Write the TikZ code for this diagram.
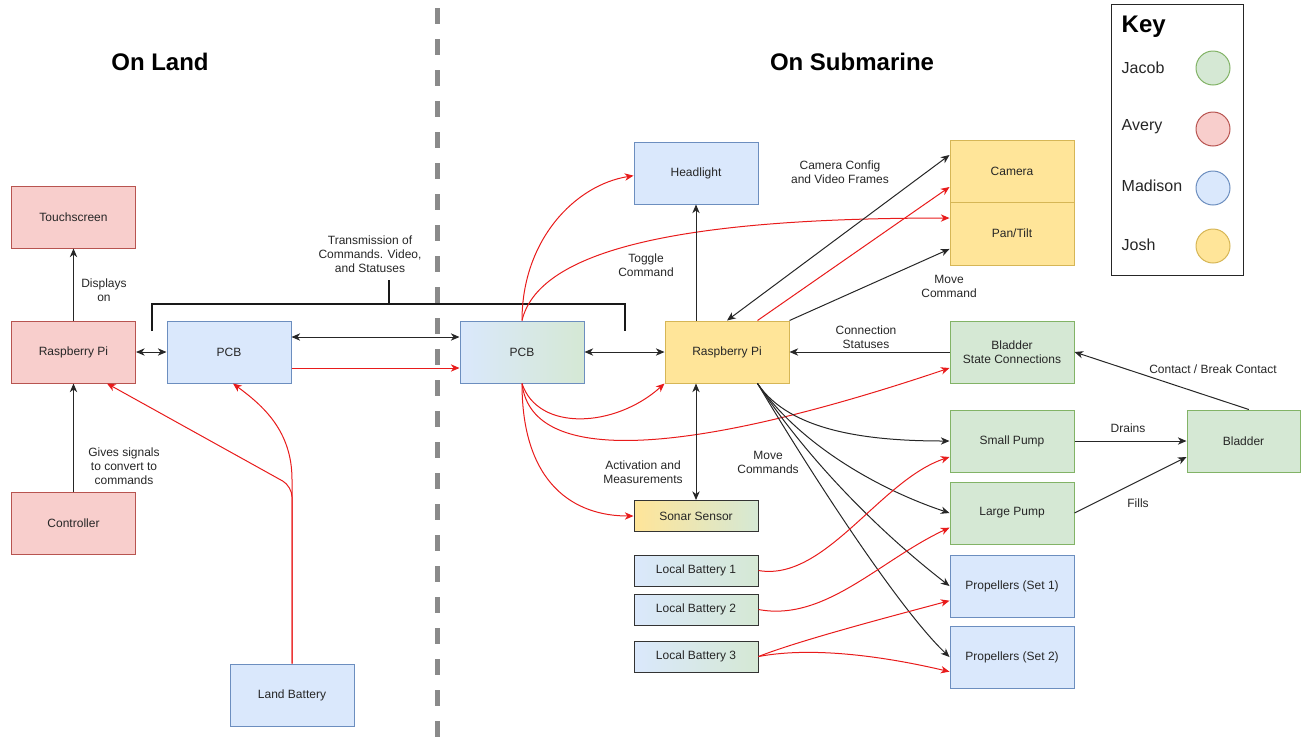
\documentclass[tikz,border=0pt]{standalone}
\usepackage{fontspec}
\setmainfont{Liberation Sans}
\usetikzlibrary{arrows.meta,calc}
\definecolor{redF}{HTML}{F8CECC}\definecolor{redD}{HTML}{B85450}
\definecolor{blueF}{HTML}{DAE8FC}\definecolor{blueD}{HTML}{6C8EBF}
\definecolor{greenF}{HTML}{D5E8D4}\definecolor{greenD}{HTML}{82B366}
\definecolor{yelF}{HTML}{FFE599}\definecolor{yelD}{HTML}{D6B656}
\definecolor{txt}{HTML}{262626}
\definecolor{wire}{HTML}{E81B1B}
\definecolor{divider}{HTML}{8A8A8A}
\begin{document}
\begin{tikzpicture}[x=0.75pt,y=-0.75pt,
  every node/.style={text=txt, font=\fontsize{9}{10.5}\selectfont},
  box/.style={draw, line width=0.75pt, minimum width=93pt, minimum height=46.5pt, inner sep=0pt, align=center},
  slim/.style={box, minimum height=23.25pt, draw=black!80},
  redbox/.style={box, fill=redF, draw=redD},
  bluebox/.style={box, fill=blueF, draw=blueD},
  greenbox/.style={box, fill=greenF, draw=greenD},
  yelbox/.style={box, fill=yelF, draw=yelD},
  lbl/.style={align=center, inner sep=1pt},
  title/.style={font=\fontsize{18}{20}\selectfont\bfseries, text=black},
  tip/.style={-{Stealth[length=6.5pt,width=5.5pt,inset=2pt]}},
  dtip/.style={{Stealth[length=6.5pt,width=5.5pt,inset=2pt]}-{Stealth[length=6.5pt,width=5.5pt,inset=2pt]}},
  link/.style={tip, draw=black!85, line width=0.75pt},
  dlink/.style={dtip, draw=black!85, line width=0.75pt},
  power/.style={tip, draw=wire, line width=0.75pt},
  dot/.style={circle, draw, line width=0.75pt, minimum size=25.5pt, inner sep=0pt}
]
\useasboundingbox (0,0) rectangle (1301,740);

% land / submarine divider
\draw[divider, line width=3.75pt, dash pattern=on 12pt off 11.25pt] (437,8) -- (437,740);

% headings
\node[title] (hland) at (160,62) {On Land};
\node[title] (hsub) at (852,62) {On Submarine};

% legend
\draw[line width=0.75pt, draw=black!85] (1111,4) rectangle (1243,275);
\node[title, anchor=west] (keyt) at (1117,27) {Key};
\node[anchor=west, font=\fontsize{12}{14}\selectfont] (kj) at (1117,68) {Jacob};
\node[anchor=west, font=\fontsize{12}{14}\selectfont] (ka) at (1117,127) {Avery};
\node[anchor=west, font=\fontsize{12}{14}\selectfont] (km) at (1117,186) {Madison};
\node[anchor=west, font=\fontsize{12}{14}\selectfont] (kh) at (1117,245) {Josh};
\node[dot, fill=greenF, draw=greenD] (cj) at (1213,68) {};
\node[dot, fill=redF, draw=redD] (ca) at (1213,129) {};
\node[dot, fill=blueF, draw=blueD] (cm) at (1213,188) {};
\node[dot, fill=yelF, draw=yelD] (ch) at (1213,246) {};

% on land
\node[redbox] (ts) at (73.5,217) {Touchscreen};
\node[redbox] (rpiL) at (73.5,352) {Raspberry Pi};
\node[redbox] (ctrl) at (73.5,523.5) {Controller};
\node[bluebox] (pcbL) at (229,352) {PCB};
\node[bluebox] (lbat) at (292,695) {Land Battery};

% on the submarine
\node[box, draw=blueD, left color=blueF, right color=greenF] (pcbS) at (522,352) {PCB};
\node[yelbox] (rpiS) at (727,352) {Raspberry Pi};
\node[bluebox] (hl) at (696,173) {Headlight};
\node[yelbox] (cam) at (1012,171) {Camera};
\node[yelbox, minimum height=47.25pt] (pan) at (1012,233.5) {Pan/Tilt};
\node[greenbox] (bsc) at (1012,352) {Bladder\\State Connections};
\node[greenbox] (sp) at (1012,441) {Small Pump};
\node[greenbox] (lp) at (1012,513) {Large Pump};
\node[bluebox] (p1) at (1012,586) {Propellers (Set 1)};
\node[bluebox] (p2) at (1012,657) {Propellers (Set 2)};
\node[greenbox, minimum width=84.75pt] (bl) at (1243.5,441) {Bladder};
\node[slim, left color=yelF, right color=greenF] (sonar) at (696,516) {Sonar Sensor};
\node[slim, left color=blueF, right color=greenF] (lb1) at (696,570.5) {Local Battery 1};
\node[slim, left color=blueF, right color=greenF] (lb2) at (696,609.5) {Local Battery 2};
\node[slim, left color=blueF, right color=greenF] (lb3) at (696,656.5) {Local Battery 3};

% transmission bracket
\draw[line width=1.8pt, draw=black!90] (152,331) -- (152,304) -- (625,304) -- (625,331);
\draw[line width=1.8pt, draw=black!90] (389,304) -- (389,280);
\node[lbl] (ltx) at (370,254) {Transmission of\\Commands. Video,\\and Statuses};

% land connectors
\draw[link] (rpiL.north) -- (ts.south);
\node[lbl] (ldisp) at (104,290) {Displays\\on};
\draw[link] (ctrl.north) -- (rpiL.south);
\node[lbl] (lgive) at (124,466) {Gives signals\\to convert to\\commands};
\draw[dlink] (rpiL.east) -- (pcbL.west);
\draw[dlink] ([yshift=11.25pt]pcbL.east) -- ([yshift=11.25pt]pcbS.west);
\draw[power] ([yshift=-12pt]pcbL.east) -- ([yshift=-12pt]pcbS.west);
\draw[power, rounded corners=8pt] (lbat.north) -- ([yshift=133pt]lbat.north) -- ([xshift=-21.75pt]rpiL.south east);
\draw[power] (lbat.north) -- ([yshift=138pt]lbat.north) .. controls ([yshift=175pt]lbat.north) and (262,405) .. ([xshift=3pt]pcbL.south);

% submarine power wiring from the PCB
\draw[power] (pcbS.north) .. controls (522,240) and (575,185) .. ([yshift=-2pt]hl.west);
\draw[power] (pcbS.north) .. controls (540,245) and (700,218) .. ([yshift=11.6pt]pan.west);
\draw[power] (pcbS.south) .. controls (538,432) and (615,428) .. (rpiS.south west);
\draw[power] (pcbS.south) .. controls (532,470) and (700,452) .. ([yshift=-12pt]bsc.west);
\draw[power] (pcbS.south) .. controls (522,485) and (575,516) .. (sonar.west);

% submarine data links
\draw[dlink] (pcbS.east) -- (rpiS.west);
\draw[link] (rpiS.north -| hl.south) -- (hl.south);
\node[lbl] (ltog) at (646,265) {Toggle\\Command};
\draw[dlink] (rpiS.north) -- ([yshift=12pt]cam.west);
\node[lbl] (lcam) at (840,172) {Camera Config\\and Video Frames};
\draw[power] ([xshift=-24pt]rpiS.north east) -- ([yshift=-12pt]cam.west);
\draw[link] (rpiS.north east) -- ([yshift=-11.6pt]pan.west);
\node[lbl] (lmove) at (949,286) {Move\\Command};
\draw[link] (bsc.west) -- (rpiS.east);
\node[lbl] (lconn) at (866,337) {Connection\\Statuses};
\draw[link] ([xshift=4pt]bl.north) -- (bsc.east);
\node[lbl] (lcont) at (1213,369) {Contact / Break Contact};
\draw[link] (sp.east) -- (bl.west);
\node[lbl] (ldrain) at (1128,428) {Drains};
\draw[link] (lp.east) -- ([yshift=-12pt]bl.west);
\node[lbl] (lfill) at (1138,503) {Fills};
\draw[dlink] (rpiS.south -| sonar.north) -- (sonar.north);
\node[lbl] (lact) at (643,472) {Activation and\\Measurements};

% motor commands
\draw[link] ([xshift=-24pt]rpiS.south east) .. controls (790,432) and (870,441) .. (sp.west);
\draw[link] ([xshift=-24pt]rpiS.south east) .. controls (800,445) and (880,490) .. (lp.west);
\draw[link] ([xshift=-24pt]rpiS.south east) .. controls (815,470) and (890,540) .. (p1.west);
\draw[link] ([xshift=-24pt]rpiS.south east) .. controls (815,480) and (900,610) .. (p2.west);
\node[lbl] (lmoves) at (768,462) {Move\\Commands};

% local battery wiring
\draw[power] (lb1.east) .. controls (825,582) and (880,480) .. ([yshift=-12pt]sp.west);
\draw[power] (lb2.east) .. controls (825,622) and (880,560) .. ([yshift=-11pt]lp.west);
\draw[power] (lb3.east) .. controls (800,640) and (900,614) .. ([yshift=-11pt]p1.west);
\draw[power] (lb3.east) .. controls (820,645) and (900,660) .. ([yshift=-11pt]p2.west);
\end{tikzpicture}
\end{document}
